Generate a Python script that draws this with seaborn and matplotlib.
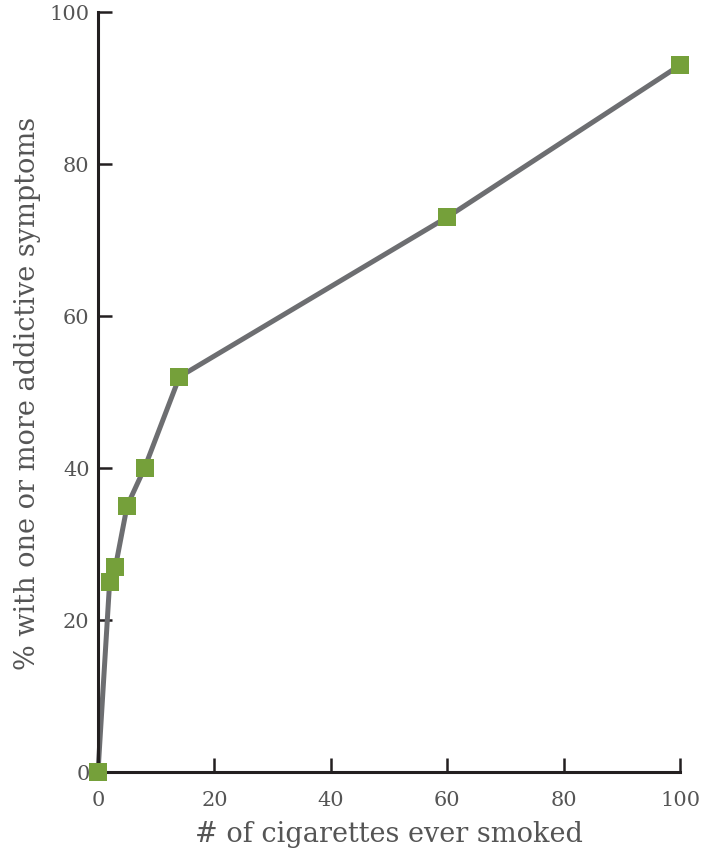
import pandas as pd
import seaborn as sns
import matplotlib.pyplot as plt

cigarettes = [0, 2, 3, 5, 8, 14, 60, 100]
pct_symptoms = [0, 25, 27, 35, 40, 52, 73, 93]
x_ticks = [0, 20, 40, 60, 80, 100]
y_ticks = [0, 20, 40, 60, 80, 100]

df = pd.DataFrame({'cigs': cigarettes, 'pct': pct_symptoms})

sns.set_style('white')
plt.rcParams['font.family'] = ['DejaVu Serif']

fig = plt.figure(figsize=(7.03, 8.53), dpi=100)
ax = fig.add_axes([0.1394, 0.0938, 0.8279, 0.891])

sns.lineplot(data=df, x='cigs', y='pct', color='#6d6e71', linewidth=3.6, ax=ax, clip_on=False)
ax.scatter(df['cigs'], df['pct'], marker='s', s=150, color='#75a03a', zorder=3, clip_on=False, linewidths=0)

ax.set_xlim(0, 100)
ax.set_ylim(0, 100)
ax.set_xticks(x_ticks)
ax.set_yticks(y_ticks)
sns.despine(ax=ax)
for s in ['left', 'bottom']:
    ax.spines[s].set_linewidth(2.2)
    ax.spines[s].set_color('#231f20')
ax.tick_params(direction='in', length=10, width=1.8, color='#231f20', bottom=True, left=True,
               labelsize=15, labelcolor='#555555', pad=6)
ax.tick_params(axis='x', pad=13)
ax.set_xlabel('# of cigarettes ever smoked', fontsize=19.5, color='#555555', labelpad=8)
ax.set_ylabel('% with one or more addictive symptoms', fontsize=19.5, color='#555555', labelpad=6)

fig.savefig('out.png', dpi=100)
